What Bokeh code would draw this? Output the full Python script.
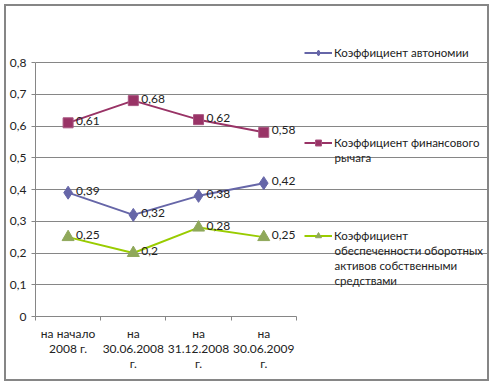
from bokeh.plotting import figure
from bokeh.models import (Range1d, FixedTicker, CustomJSTickFormatter, Legend, LegendItem,
                          ColumnDataSource, LinearAxis, Label)
from bokeh.core.properties import value
from bokeh.embed import file_html
from bokeh.resources import INLINE

categories = ["на начало\n2008 г.", "на\n30.06.2008\nг.", "на\n31.12.2008\nг.", "на\n30.06.2009\nг."]
autonomy = [0.39, 0.32, 0.38, 0.42]
leverage = [0.61, 0.68, 0.62, 0.58]
coverage = [0.25, 0.20, 0.28, 0.25]
series_names = [["Коэффициент автономии"],
                ["Коэффициент финансового", "рычага"],
                ["Коэффициент", "обеспеченности оборотных", "активов собственными", "средствами"]]
y_ticks = [0, 0.1, 0.2, 0.3, 0.4, 0.5, 0.6, 0.7, 0.8]
y_max = 0.8

FONT = "Lato"
n = len(categories)
xs = [i + 0.5 for i in range(n)]

# layout (pixels)
W, H = 485, 377
LEFT, BOTTOM, TOP, RIGHT = 27, 67, 1, 0
PLOT_W, PLOT_H = 262, 254          # width of category area, height of 0..0.8
frame_w = W - LEFT - RIGHT
frame_h = H - TOP - BOTTOM

p = figure(width=W, height=H, output_backend="svg", toolbar_location=None,
           x_range=Range1d(0, n * frame_w / PLOT_W), y_range=Range1d(0, y_max * frame_h / PLOT_H),
           min_border_left=LEFT, min_border_right=RIGHT, min_border_top=TOP, min_border_bottom=BOTTOM)
p.styles = {"border": "2px solid #868686", "margin-left": "4px", "margin-top": "4px"}
p.outline_line_color = None
p.xaxis.visible = False
p.yaxis.visible = False
p.xgrid.visible = False
p.ygrid.ticker = FixedTicker(ticks=y_ticks)
p.ygrid.grid_line_color = "#868686"
p.ygrid.grid_line_width = 1
p.ygrid.bounds = (0, n)

yax = LinearAxis(ticker=FixedTicker(ticks=y_ticks), bounds=(0, y_max),
                 formatter=CustomJSTickFormatter(code="return tick == 0 ? '0' : tick.toFixed(1).replace('.', ',');"))
yax.axis_line_color = "#868686"
yax.major_tick_line_color = "#868686"
yax.major_tick_out = 4
yax.major_tick_in = 0
yax.minor_tick_line_color = None
yax.major_label_text_font = FONT
yax.major_label_text_font_size = "12px"
yax.major_label_text_color = "#222222"
yax.major_label_standoff = 5
p.add_layout(yax, "left")

xax = LinearAxis(ticker=FixedTicker(ticks=xs, minor_ticks=list(range(n + 1))), bounds=(0, n),
                 major_label_overrides={x: c for x, c in zip(xs, categories)})
xax.axis_line_color = "#868686"
xax.major_tick_line_color = None
xax.major_tick_out = 4
xax.major_tick_in = 0
xax.minor_tick_line_color = "#868686"
xax.minor_tick_out = 4
xax.minor_tick_in = 0
xax.major_label_text_font = FONT
xax.major_label_text_font_size = "12px"
xax.major_label_text_color = "#222222"
xax.major_label_text_line_height = 1.0
xax.major_label_standoff = 5
p.add_layout(xax, "below")

def fmt(v):
    return f"{v:g}".replace(".", ",")

src = ColumnDataSource(dict(x=xs, a=autonomy, l=leverage, c=coverage,
                            at=[fmt(v) for v in autonomy],
                            lt=[fmt(v) for v in leverage],
                            ct=[fmt(v) for v in coverage]))

c1, c2, c3, c3m = "#6666a8", "#993366", "#99cc00", "#8fa85a"
r1l = p.line("x", "a", source=src, line_color=c1, line_width=2)
r1m = p.scatter("x", "a", source=src, marker="diamond", size=13, fill_color=c1, line_color=c1)
r2l = p.line("x", "l", source=src, line_color=c2, line_width=2)
r2m = p.scatter("x", "l", source=src, marker="square", size=10, fill_color=c2, line_color="#a85580")
r3l = p.line("x", "c", source=src, line_color=c3, line_width=2)
r3m = p.scatter("x", "c", source=src, marker="triangle", size=12, fill_color=c3m, line_color=c3m)

for col, ycol in [("at", "a"), ("lt", "l"), ("ct", "c")]:
    p.text("x", ycol, text=col, source=src, x_offset=8, y_offset=-2,
           text_font=value(FONT), text_font_size="12px", text_color="#222222",
           text_baseline="middle", text_align="left")

# legend: one block per series, marker aligned with the first text line
LEG_X = 269                      # from frame left
LEG_Y = [256, 166, 73]           # bottom of first-line row, from frame bottom
GLYPH_W, ROW_H, STANDOFF, LINE_STEP = 28, 15, 2, 14.7
LEG_FONT_SIZE = "11.5px"
for names, rends, ly in zip(series_names, [[r1l, r1m], [r2l, r2m], [r3l, r3m]], LEG_Y):
    lg = Legend(items=[LegendItem(label=names[0], renderers=rends)],
                location=(LEG_X, ly), border_line_color=None, background_fill_alpha=0,
                label_text_font=FONT, label_text_font_size=LEG_FONT_SIZE, label_text_color="#222222",
                glyph_width=GLYPH_W, glyph_height=ROW_H, label_height=ROW_H,
                label_standoff=STANDOFF, padding=0, margin=0)
    p.add_layout(lg, "center")
    for k, extra in enumerate(names[1:], start=1):
        p.add_layout(Label(x=LEG_X + GLYPH_W + STANDOFF, y=ly + ROW_H / 2 - k * LINE_STEP,
                           x_units="screen", y_units="screen", text=extra,
                           text_font=FONT, text_font_size=LEG_FONT_SIZE, text_color="#222222",
                           text_baseline="middle", text_align="left"))

open("out.html", "w").write(file_html(p, INLINE))
